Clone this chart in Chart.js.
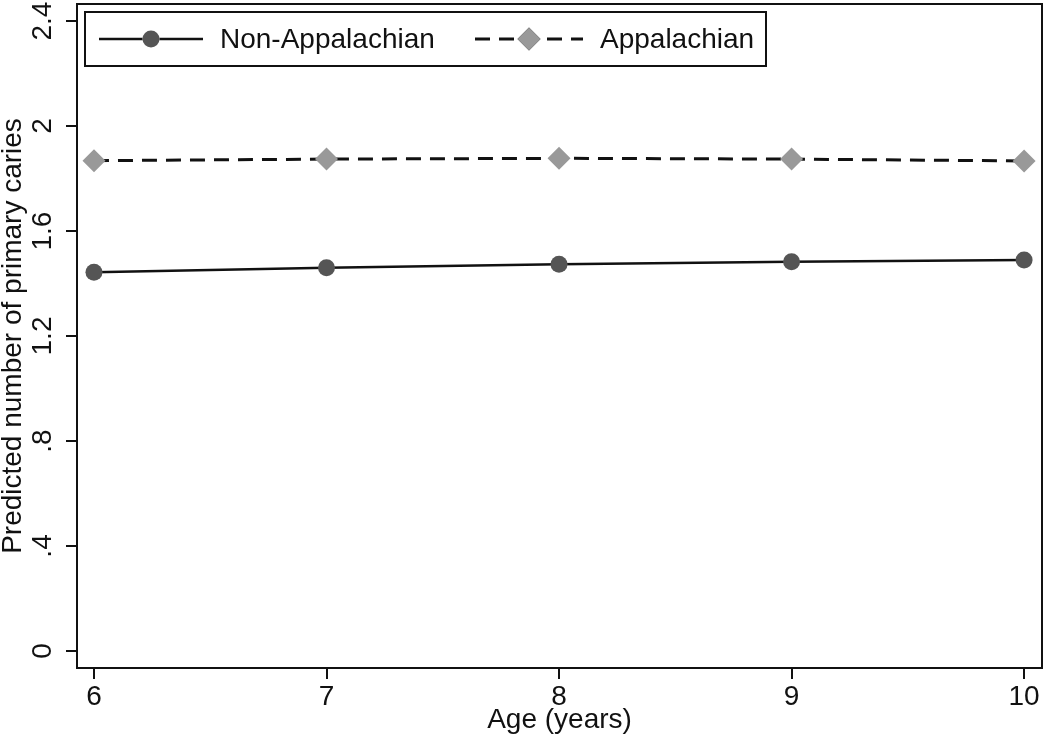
<!DOCTYPE html>
<html>
<head>
<meta charset="utf-8">
<script src="https://cdn.jsdelivr.net/npm/chart.js@4/dist/chart.umd.min.js"></script>
<style>
  html, body { margin: 0; padding: 0; background: #fff; }
  #wrap { width: 1050px; height: 746px; }
</style>
</head>
<body>
<div id="wrap"><canvas id="caries"></canvas></div>
<script>
// values
const ages = [6, 7, 8, 9, 10];
const nonAppalachian = [1.443, 1.460, 1.473, 1.483, 1.490];
const appalachian = [1.868, 1.874, 1.877, 1.874, 1.867];
const yTicks = [0, 0.4, 0.8, 1.2, 1.6, 2.0, 2.4];
const seriesNames = ['Non-Appalachian', 'Appalachian'];

// axis ranges (plot region is a bit wider than the tick range)
const xMin = 5.927, xMax = 10.077;
const yMin = -0.065, yMax = 2.465;

const FONT = "'Liberation Sans', Arial, sans-serif";
const FSIZE = 28;

function toPoints(ys) {
  return ages.map((a, i) => ({ x: a, y: ys[i] }));
}

// stata-like y labels: ".4" instead of "0.4"
function stataLabel(v) {
  if (v === 0) return '0';
  return String(+v.toFixed(1)).replace(/^0\./, '.');
}

const framePlugin = {
  id: 'frame',
  afterDraw(chart) {
    const { ctx, chartArea: a } = chart;
    ctx.save();
    ctx.strokeStyle = '#111';
    ctx.lineWidth = 2;
    ctx.strokeRect(a.left, a.top, a.right - a.left, a.bottom - a.top);
    ctx.restore();
  }
};

// y tick labels turned 90 degrees, centred on each tick
const yLabels = {
  id: 'yLabels',
  afterDraw(chart) {
    const { ctx } = chart;
    const y = chart.scales.y;
    ctx.save();
    ctx.fillStyle = '#111';
    ctx.font = FSIZE + 'px ' + FONT;
    ctx.textAlign = 'center';
    ctx.textBaseline = 'middle';
    y.ticks.forEach(t => {
      const py = y.getPixelForValue(t.value);
      ctx.save();
      ctx.translate(43, py);
      ctx.rotate(-Math.PI / 2);
      ctx.fillText(stataLabel(t.value), 0, 0);
      ctx.restore();
    });
    ctx.restore();
  }
};

// legend with line + marker like stata draws it
const legendBox = {
  id: 'legendBox',
  afterDraw(chart) {
    const ctx = chart.ctx;
    const ds = chart.data.datasets;
    const boxX = 85, boxY = 12, boxW = 681, boxH = 54;
    const cy = boxY + boxH / 2;
    const entries = [
      { x0: 99, x1: 203, tx: 220, d: ds[0] },
      { x0: 475, x1: 583, tx: 600, d: ds[1] }
    ];
    ctx.save();
    ctx.fillStyle = '#fff';
    ctx.fillRect(boxX, boxY, boxW, boxH);
    ctx.strokeStyle = '#111';
    ctx.lineWidth = 2;
    ctx.strokeRect(boxX, boxY, boxW, boxH);

    entries.forEach(e => {
      ctx.save();
      ctx.strokeStyle = e.d.borderColor;
      ctx.lineWidth = e.d.borderWidth;
      ctx.setLineDash(e.d.borderDash || []);
      ctx.beginPath();
      ctx.moveTo(e.x0, cy);
      ctx.lineTo(e.x1, cy);
      ctx.stroke();
      ctx.restore();
      Chart.helpers.drawPoint(ctx, {
        pointStyle: e.d.pointStyle,
        radius: e.d.pointRadius,
        borderWidth: 0
      }, (e.x0 + e.x1) / 2, cy);
      ctx.fillStyle = e.d.pointBackgroundColor;
      ctx.fill();
      ctx.fillStyle = '#111';
      ctx.font = FSIZE + 'px ' + FONT;
      ctx.textBaseline = 'middle';
      ctx.textAlign = 'left';
      ctx.fillText(e.d.label, e.tx, cy + 1);
    });
    ctx.restore();
  }
};

const ctx = document.getElementById('caries').getContext('2d');
new Chart(ctx, {
  type: 'line',
  data: {
    datasets: [
      {
        label: seriesNames[0],
        data: toPoints(nonAppalachian),
        borderColor: '#111',
        borderWidth: 2.5,
        pointStyle: 'circle',
        pointRadius: 8.5,
        pointBackgroundColor: '#555',
        pointBorderColor: '#555',
        pointBorderWidth: 0,
        tension: 0
      },
      {
        label: seriesNames[1],
        data: toPoints(appalachian),
        borderColor: '#111',
        borderWidth: 3,
        borderDash: [15, 9],
        pointStyle: 'rectRot',
        pointRadius: 11.5,
        pointBackgroundColor: '#999',
        pointBorderColor: '#999',
        pointBorderWidth: 0,
        tension: 0
      }
    ]
  },
  options: {
    responsive: true,
    maintainAspectRatio: false,
    animation: false,
    events: [],
    layout: { autoPadding: false, padding: { left: 0, right: 8, top: 4, bottom: 0 } },
    plugins: {
      legend: { display: false },
      tooltip: { enabled: false }
    },
    scales: {
      x: {
        type: 'linear',
        min: xMin,
        max: xMax,
        afterBuildTicks: (s) => { s.ticks = ages.map(v => ({ value: v })); },
        afterFit: (s) => { s.height = 78; },
        border: { display: false },
        grid: { drawOnChartArea: false, tickLength: 11, color: '#111', lineWidth: 2 },
        ticks: {
          color: '#111',
          padding: 1,
          maxRotation: 0,
          font: { family: FONT, size: FSIZE }
        },
        title: {
          display: true,
          text: 'Age (years)',
          color: '#111',
          font: { family: FONT, size: FSIZE, lineHeight: 1 },
          padding: { top: 0, bottom: 12 }
        }
      },
      y: {
        min: yMin,
        max: yMax,
        afterBuildTicks: (s) => { s.ticks = yTicks.map(v => ({ value: v })); },
        afterFit: (s) => { s.width = 77; s.paddingTop = 0; s.paddingBottom = 0; },
        border: { display: false },
        grid: { drawOnChartArea: false, tickLength: 11, color: '#111', lineWidth: 2 },
        ticks: { display: false },
        title: {
          display: true,
          text: 'Predicted number of primary caries',
          color: '#111',
          font: { family: FONT, size: FSIZE, lineHeight: 1 },
          padding: { top: -1, bottom: 0 }
        }
      }
    }
  },
  plugins: [framePlugin, yLabels, legendBox]
});
</script>
</body>
</html>
